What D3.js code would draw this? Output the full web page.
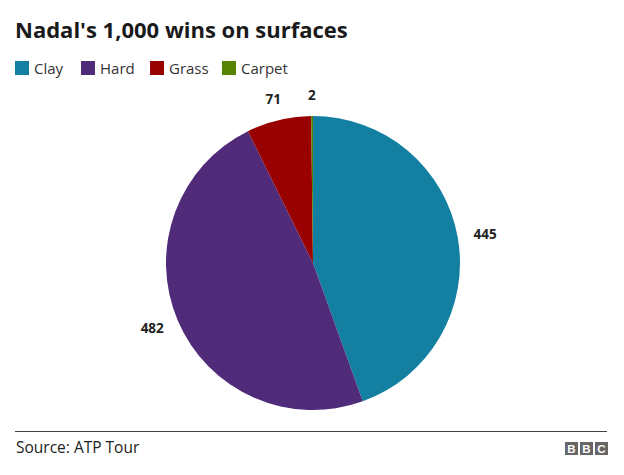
<!DOCTYPE html>
<html><head><meta charset="utf-8">
<script src="https://cdn.jsdelivr.net/npm/d3@7"></script>
<style>body{margin:0;background:#fff;}svg{display:block;font-family:"Open Sans","Noto Sans",sans-serif;}</style>
</head><body>
<svg id="c" width="624" height="475"></svg>
<script>
const categories = ["Clay", "Hard", "Grass", "Carpet"];
const wins = [445, 482, 71, 2];
const colors = ["#1380A1", "#4F2B7A", "#990000", "#588300"];

const svg = d3.select("#c");
svg.append("text").attr("x", 15).attr("y", 38).attr("font-size", 22).attr("font-weight", 700)
  .attr("fill", "#1a1a1a").text("Nadal's 1,000 wins on surfaces");

const color = d3.scaleOrdinal().domain(categories).range(colors);
const legendX = [15, 81, 150, 222];
const lg = svg.append("g");
categories.forEach((c, i) => {
  lg.append("rect").attr("x", legendX[i]).attr("y", 61).attr("width", 14).attr("height", 14).attr("fill", color(c));
  lg.append("text").attr("x", legendX[i] + 19).attr("y", 74).attr("font-size", 15).attr("fill", "#333").text(c);
});

const cx = 313, cy = 263, r = 147;
const data = categories.map((c, i) => ({cat: c, v: wins[i]}));
const pie = d3.pie().value(d => d.v).sort(null);
const arcs = pie(data);
const arc = d3.arc().innerRadius(0).outerRadius(r);
const g = svg.append("g").attr("transform", `translate(${cx},${cy})`);
g.selectAll("path").data(arcs).join("path").attr("d", arc).attr("fill", d => color(d.data.cat));

// labels: anchored outside the pie at mid-angle, box pushed outward
const lr = 163, fs = 13.5;
const lbl = g.selectAll("text.lbl").data(arcs).join("text").attr("class", "lbl")
  .attr("text-anchor", "middle").attr("dy", "0.35em")
  .attr("font-size", fs).attr("font-weight", 700).attr("fill", "#222").text(d => d3.format(",")(d.value));
lbl.each(function(d) {
  const a = (d.startAngle + d.endAngle) / 2;
  const w = this.getBBox().width, h = 10;
  const x = Math.sin(a) * lr + Math.sin(a) * w / 2;
  const y = -Math.cos(a) * lr - Math.cos(a) * h / 2;
  d3.select(this).attr("x", x).attr("y", y);
});

svg.append("line").attr("x1", 15).attr("x2", 607).attr("y1", 431.5).attr("y2", 431.5).attr("stroke", "#444").attr("stroke-width", 1);
svg.append("text").attr("x", 16).attr("y", 453).attr("font-size", 15.5).attr("fill", "#222").text("Source: ATP Tour");
const bbc = svg.append("g");
["B", "B", "C"].forEach((t, i) => {
  const x = 565 + i * 15;
  bbc.append("rect").attr("x", x).attr("y", 442).attr("width", 13).attr("height", 13).attr("fill", "#666");
  bbc.append("text").attr("x", x + 6.5).attr("y", 452.5).attr("text-anchor", "middle").attr("font-size", 11.5)
    .attr("font-weight", 700).attr("fill", "#fff").attr("font-family", "Liberation Sans, Arial, sans-serif").text(t);
});
</script>
</body></html>
